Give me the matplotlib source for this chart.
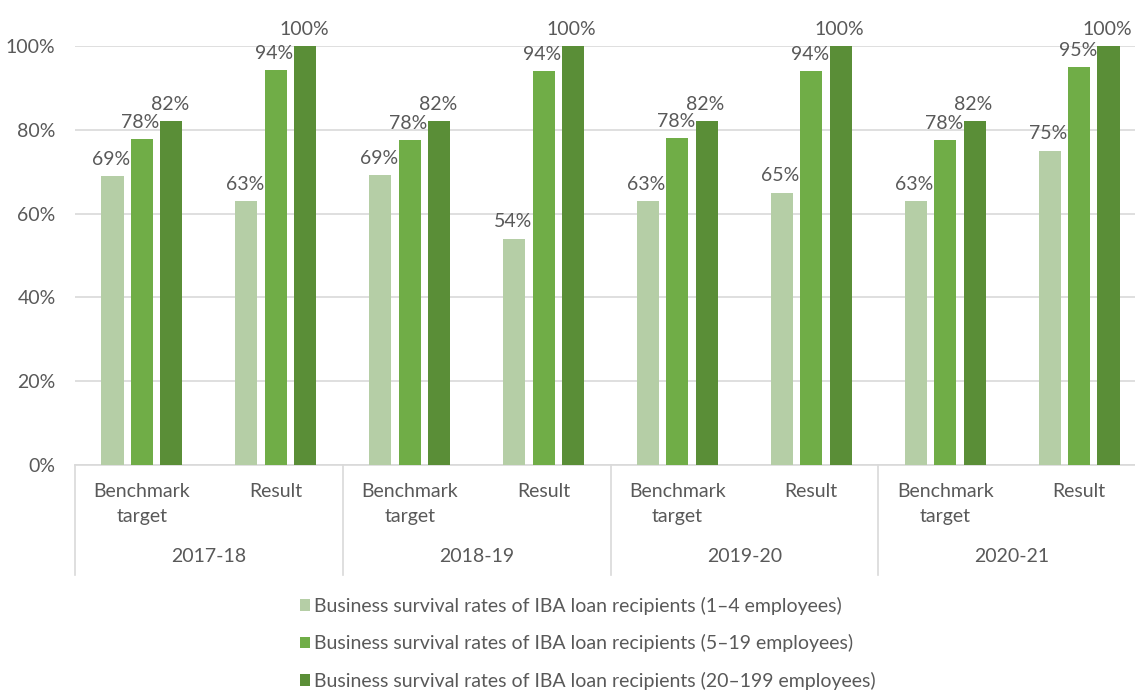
import numpy as np
import matplotlib
matplotlib.use('Agg')
import matplotlib.pyplot as plt
import matplotlib.transforms as mtransforms

plt.rcParams['font.family'] = ['Lato', 'DejaVu Sans']

# 数据
years = ['2017-18', '2018-19', '2019-20', '2020-21']
categories = ['Benchmark\ntarget', 'Result']
series_names = [
    'Business survival rates of IBA loan recipients (1\u20134 employees)',
    'Business survival rates of IBA loan recipients (5\u201319 employees)',
    'Business survival rates of IBA loan recipients (20\u2013199 employees)',
]
small = [69, 63, 69.2, 54, 63, 65, 63, 75]
medium = [77.7, 94.3, 77.5, 94, 78, 94, 77.5, 95]
large = [82, 100, 82, 100, 82, 100, 82, 100]

colors = ['#b5cea6', '#70ad47', '#5a8e37']
text_color = '#595959'
grid_color = '#d9d9d9'
fs = 14

W, H = 1135, 693
fig = plt.figure(figsize=(W / 100, H / 100), dpi=100)
left_px, right_px, top_px, bot_px = 75, 1146, 46, 465
ax = fig.add_axes([left_px / W, 1 - bot_px / H, (right_px - left_px) / W, (bot_px - top_px) / H])

n = len(small)
x = np.arange(n)
width = 0.165
offset = 0.22
for i, vals in enumerate([small, medium, large]):
    pos = x + (i - 1) * offset
    ax.bar(pos, vals, width, color=colors[i], label=series_names[i], zorder=3)
    for p, v in zip(pos, vals):
        ax.annotate(f'{v:.0f}%', (p, v), xytext=(-1, 6), textcoords='offset points',
                    ha='center', va='bottom', fontsize=fs, color=text_color, clip_on=False)

ax.set_xlim(-0.5, n - 0.5)
ax.set_ylim(0, 100)
ax.set_yticks(range(0, 101, 20))
ax.set_yticklabels([f'{t}%' for t in range(0, 101, 20)], fontsize=fs, color=text_color)
ax.tick_params(axis='y', length=0, pad=14)
ax.yaxis.grid(True, color=grid_color, linewidth=1.2, zorder=0)
ax.set_xticks([])
for s in ['top', 'right', 'left']:
    ax.spines[s].set_visible(False)
ax.spines['bottom'].set_color(grid_color)
ax.spines['bottom'].set_linewidth(1.2)

# 两层分类轴标签
trans = mtransforms.blended_transform_factory(ax.transData, ax.transAxes)
ppx = 1 / (bot_px - top_px)
for i in range(n):
    ax.text(i, -18 * ppx, categories[i % 2], transform=trans, ha='center', va='top',
            fontsize=fs, color=text_color, linespacing=1.55)
for g, yr in enumerate(years):
    ax.text(2 * g + 0.5, -92 * ppx, yr, transform=trans, ha='center', va='center',
            fontsize=fs, color=text_color)
for g in range(len(years) + 1):
    ax.plot([2 * g - 0.5, 2 * g - 0.5], [0, -110 * ppx], transform=trans,
            color=grid_color, linewidth=1.2, clip_on=False)

fig.legend(loc='upper left', bbox_to_anchor=(290 / W, 1 - 587 / H), frameon=False,
           fontsize=fs, labelcolor=text_color, handlelength=0.55, handleheight=0.55,
           handletextpad=0.2, labelspacing=1.0, borderpad=0)

fig.savefig('out.png', dpi=100)
